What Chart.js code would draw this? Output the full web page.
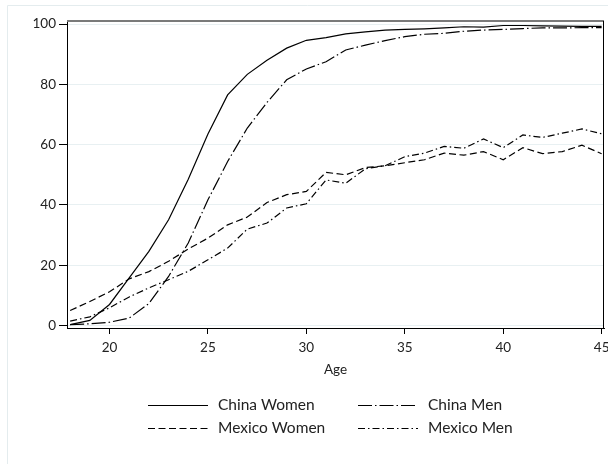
<!DOCTYPE html>
<html><head><meta charset="utf-8">
<script src="https://cdn.jsdelivr.net/npm/chart.js@4/dist/chart.umd.min.js"></script>
<style>html,body{margin:0;padding:0;background:#fff}#wrap{width:608px;height:464px;position:relative}</style>
</head><body><div id="wrap"><canvas id="c" width="608" height="464"></canvas></div>
<script>
const ages = [18,19,20,21,22,23,24,25,26,27,28,29,30,31,32,33,34,35,36,37,38,39,40,41,42,43,44,45];
const chinaWomen = [0.3,1.7,7,15.8,24.6,35.1,48.5,63.5,76.5,83.3,88,92,94.6,95.5,96.7,97.4,98,98.2,98.4,98.7,99.1,99,99.5,99.5,99.4,99.3,99.2,99.2];
const chinaMen = [0.3,0.6,1.1,2.5,7.3,16.3,27.4,41.7,54.4,65.5,74,81.5,85.1,87.5,91.4,93,94.5,95.8,96.6,96.9,97.6,98,98.2,98.5,98.7,98.7,98.8,98.8];
const mexicoWomen = [5.0,8.0,11.2,15.5,17.9,21.3,25.4,29,33.4,36,40.8,43.4,44.5,50.8,50,52.4,53,54,55,57.2,56.5,57.7,55,59,57,57.7,59.8,57];
const mexicoMen = [1.5,2.9,5.9,9.5,12.5,15.2,18,21.8,25.7,32,34,39,40.4,48.3,47.2,52,53,56,57.2,59.4,58.8,61.9,59,63.2,62.4,63.8,65.2,63.6];
const xTicks = [20,25,30,35,40,45];
const yTicks = [0,20,40,60,80,100];
const seriesLabels = ['China Women','China Men','Mexico Women','Mexico Men'];
const xTitle = 'Age';

const FONT = 'Lato, "DejaVu Sans", sans-serif';
const toPts = arr => arr.map((v,i)=>({x:ages[i], y:v}));
const dashes = [[], [14,3,1.5,3], [7,3.5], [7,3,1.5,3]];
const seriesData = [chinaWomen, chinaMen, mexicoWomen, mexicoMen];

const framePlugin = {
  id:'frame',
  beforeDraw(chart){
    const ctx = chart.ctx; ctx.save();
    ctx.fillStyle='#fff'; ctx.fillRect(0,0,chart.width,chart.height);
    ctx.strokeStyle='#e4ecee'; ctx.lineWidth=1;
    ctx.beginPath(); ctx.moveTo(7.5,chart.height); ctx.lineTo(7.5,5.5); ctx.lineTo(chart.width,5.5); ctx.stroke();
    ctx.restore();
  },
  afterDraw(chart){
    const ctx = chart.ctx; const a = chart.chartArea; ctx.save();
    ctx.strokeStyle='#7a7a7a'; ctx.lineWidth=2;
    ctx.beginPath(); ctx.moveTo(a.left, a.top); ctx.lineTo(a.right, a.top); ctx.stroke();
    ctx.strokeStyle='#000'; ctx.lineWidth=1;
    ctx.beginPath(); ctx.moveTo(a.right-0.5, a.top); ctx.lineTo(a.right-0.5, a.bottom); ctx.stroke();
    // legend
    const pos = [[148,405],[358,405],[148,428],[358,428]];
    ctx.font = '15.5px ' + FONT; ctx.fillStyle='#222'; ctx.textBaseline='middle';
    chart.data.datasets.forEach((ds,i)=>{
      const [x,y] = pos[i];
      ctx.strokeStyle='#000'; ctx.lineWidth=1.2; ctx.setLineDash(ds.borderDash||[]);
      ctx.beginPath(); ctx.moveTo(x, y+0.5); ctx.lineTo(x+60, y+0.5); ctx.stroke();
      ctx.setLineDash([]);
      ctx.fillText(ds.label, x+70, y);
    });
    ctx.restore();
  }
};

new Chart(document.getElementById('c'), {
  type:'line',
  data:{ datasets: seriesLabels.map((l,i)=>({
    label:l, data:toPts(seriesData[i]), borderColor:'#000', borderWidth:1.2,
    borderDash:dashes[i], pointRadius:0, tension:0, fill:false
  }))},
  options:{
    responsive:false, animation:false, devicePixelRatio:1,
    layout:{autoPadding:false, padding:{left:0,top:21,right:4,bottom:86}},
    plugins:{legend:{display:false}, tooltip:{enabled:false}},
    scales:{
      x:{type:'linear', min:17.84, max:45.12,
        afterBuildTicks: s=>{ s.ticks = xTicks.map(v=>({value:v})); },
        afterFit: s=>{ s.height = 50; s.paddingLeft = 0; s.paddingRight = 0; },
        grid:{drawOnChartArea:false, tickColor:'#000', tickLength:6},
        border:{color:'#000', width:1},
        ticks:{font:{family:FONT,size:13.5}, color:'#222', padding:6, maxRotation:0, autoSkip:false},
        title:{display:true, text:xTitle, font:{family:FONT,size:13.5}, color:'#222', padding:{top:2,bottom:0}}
      },
      y:{type:'linear', min:-0.8, max:101,
        afterBuildTicks: s=>{ s.ticks = yTicks.map(v=>({value:v})); },
        afterFit: s=>{ s.width = 67; s.paddingTop = 0; s.paddingBottom = 0; },
        grid:{color:'#e8f0f2', tickColor:'#000', tickLength:8},
        border:{color:'#000', width:1},
        ticks:{font:{family:FONT,size:13.5}, color:'#222', padding:3}
      }
    }
  },
  plugins:[framePlugin]
});
</script></body></html>
